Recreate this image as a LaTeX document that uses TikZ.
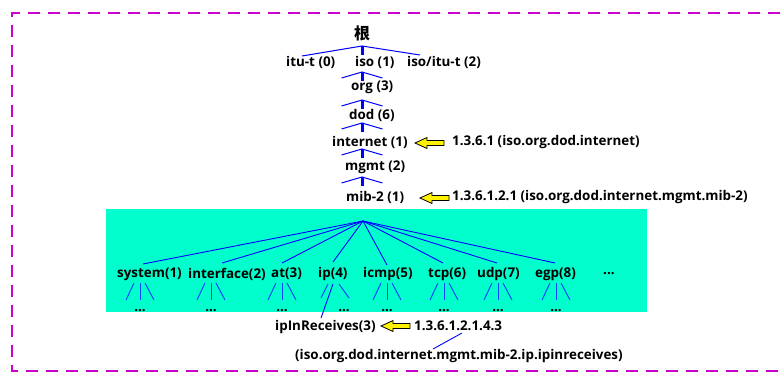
\documentclass[tikz,border=0pt]{standalone}
\usepackage{fontspec}
\setmainfont{Open Sans}
\newfontfamily\cjkfont{Noto Sans CJK SC}
\begin{document}
\begin{tikzpicture}[x=1pt,y=-1pt,
  lbl/.style={font=\bfseries\fontsize{13.4}{15}\selectfont, inner sep=0pt, anchor=west},
  dots/.style={font=\bfseries\fontsize{13.4}{15}\selectfont, inner sep=0pt, anchor=base},
  fan/.style={draw=blue, line width=1pt},
  shaft/.style={draw=blue, line width=3pt},
  tri/.style={draw=triblue, line width=1pt},
  border/.style={draw=mag, line width=2.5pt, dash pattern=on 12pt off 8pt},
  uparr/.pic={\draw[fan] (-20.5,6) -- (0,0) -- (20.5,6); \draw[shaft] (0,-0.5) -- (0,9);},
  yarrow/.pic={\filldraw[fill=yellow, draw=black, line width=0.8pt] (0,0) -- (12,-5.5) -- (12,-2.5) -- (29,-2.5) -- (29,2.5) -- (12,2.5) -- (12,5.5) -- cycle;},
  tripod/.pic={\draw[tri] (-6,0) -- (-14,17); \draw[tri] (0,0) -- (0,17); \draw[tri] (5,0) -- (14,17);}
]
\definecolor{aqua}{RGB}{0,255,204}
\definecolor{mag}{RGB}{204,0,204}
\definecolor{triblue}{RGB}{20,70,255}
\useasboundingbox (0,0) rectangle (782,373);
\draw[border] (800,13) -- (12,13) -- (12,371) -- (800,371);
\fill[aqua] (106,209) rectangle (647,312);

% top tree
\node[font=\cjkfont\bfseries\fontsize{16}{17}\selectfont, inner sep=0pt] (root) at (362,33) {根};
\node[lbl] (itu) at (286,62) {itu-t (0)};
\node[lbl] (iso) at (355,62) {iso (1)};
\node[lbl] (isoitu) at (407,62) {iso/itu-t (2)};
\node[lbl] (org) at (351,87) {org (3)};
\node[lbl] (dod) at (349,115) {dod (6)};
\node[lbl] (internet) at (332,142) {internet (1)};
\node[lbl] (mgmt) at (345,167) {mgmt (2)};
\node[lbl] (mib) at (346,197) {mib-2 (1)};
\node[lbl] (d1) at (452,142) {1.3.6.1 (iso.org.dod.internet)};
\node[lbl] (d2) at (452,197) {1.3.6.1.2.1 (iso.org.dod.internet.mgmt.mib-2)};

\coordinate (r0) at (362,46);
\draw[fan] (302,56) -- (r0) -- (420,55);
\draw[shaft] (362,45.5) -- (362,55);
\pic at (362,72) {uparr};
\pic at (362,100) {uparr};
\pic at (362,123) {uparr};
\pic at (362,149) {uparr};
\pic at (362,177) {uparr};

\pic at (415,143) {yarrow};
\pic at (420,198) {yarrow};

% mib-2 children
\coordinate (apex) at (363,221);
\node[lbl] (sys) at (117,274) {system(1)};
\node[lbl] (ifc) at (188,274) {interface(2)};
\node[lbl] (at) at (271,274) {at(3)};
\node[lbl] (ip) at (318,274) {ip(4)};
\node[lbl] (icmp) at (363,274) {icmp(5)};
\node[lbl] (tcp) at (428,274) {tcp(6)};
\node[lbl] (udp) at (477,274) {udp(7)};
\node[lbl] (egp) at (535,274) {egp(8)};
\node[lbl] (more) at (603,274) {...};
\foreach \x/\y in {143/264,222/263,282/263,333/262,387/265,443/263,497/263,555/263}
  \draw[fan, line width=0.9pt] (apex) -- (\x,\y);

\foreach \c in {140,211,282,387,444,498,556} {
  \pic at (\c,283) {tripod};
  \node[dots] at (\c,311) {...};
}
\draw[tri] (328,284) -- (321,298);
\draw[tri] (339,284) -- (349,298);
\node[dots] at (344,311) {...};

\node[lbl] (ipin) at (275,327) {ipInReceives(3)};
\draw[fan, line width=0.9pt] (333,284) -- (321,318);
\pic at (381,326) {yarrow};
\node[lbl] (d3) at (414,326) {1.3.6.1.2.1.4.3};
\node[lbl] (d4) at (295,356) {(iso.org.dod.internet.mgmt.mib-2.ip.ipinreceives)};
\draw[fan, line width=0.9pt] (462,333) -- (433,349);
\end{tikzpicture}
\end{document}
